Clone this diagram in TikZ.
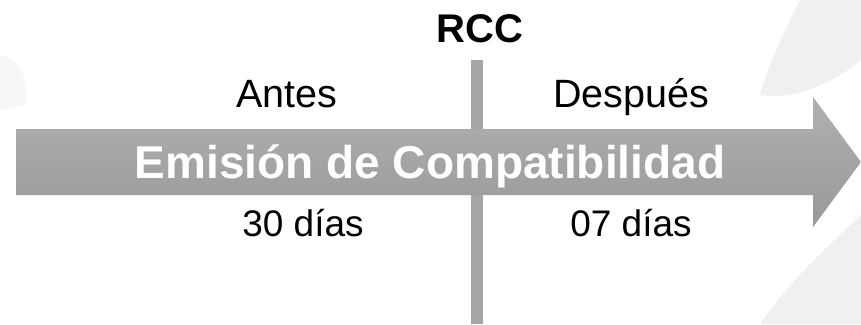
\documentclass[tikz,border=0pt]{standalone}
\usepackage{fontspec}
\setmainfont{Liberation Sans}
\begin{document}
\begin{tikzpicture}[x=1pt,y=-1pt,
  lbl/.style={anchor=base,inner sep=0pt,text=black},
  texture/.style={fill=black!6,draw=none}]
\useasboundingbox (0,0) rectangle (861,324);
\fill[white] (0,0) rectangle (861,324);
% faint background texture on the right
\fill[texture] (800,0) .. controls (785,30) and (770,60) .. (760,95)
  .. controls (795,100) and (830,85) .. (861,60) -- (861,0) -- cycle;
\fill[texture] (861,215) .. controls (830,245) and (790,280) .. (760,324)
  -- (861,324) -- cycle;
\fill[black!3] (0,55) .. controls (20,60) and (30,80) .. (25,105)
  -- (0,110) -- cycle;
% vertical divider
\fill[black!35] (471,60) rectangle (483,324);
% arrow
\path[top color=black!31,bottom color=black!40]
  (16,129) -- (813,129) -- (813,97) -- (861,162) -- (813,227) -- (813,195)
  -- (16,195) -- cycle;
\node[lbl,font=\bfseries\fontsize{40}{40}\selectfont] (rcc) at (480,42.5) {RCC};
\node[lbl,font=\fontsize{39.5}{40}\selectfont] (antes) at (287,107) {Antes};
\node[lbl,font=\fontsize{39.5}{40}\selectfont] (despues) at (631,107) {Después};
\node[lbl,text=white,font=\bfseries\fontsize{46}{46}\selectfont] (emision) at (430,178) {Emisión de Compatibilidad};
\node[lbl,font=\fontsize{37}{37}\selectfont] (d30) at (303,236) {30 días};
\node[lbl,font=\fontsize{37}{37}\selectfont] (d07) at (631,236) {07 días};
\end{tikzpicture}
\end{document}
